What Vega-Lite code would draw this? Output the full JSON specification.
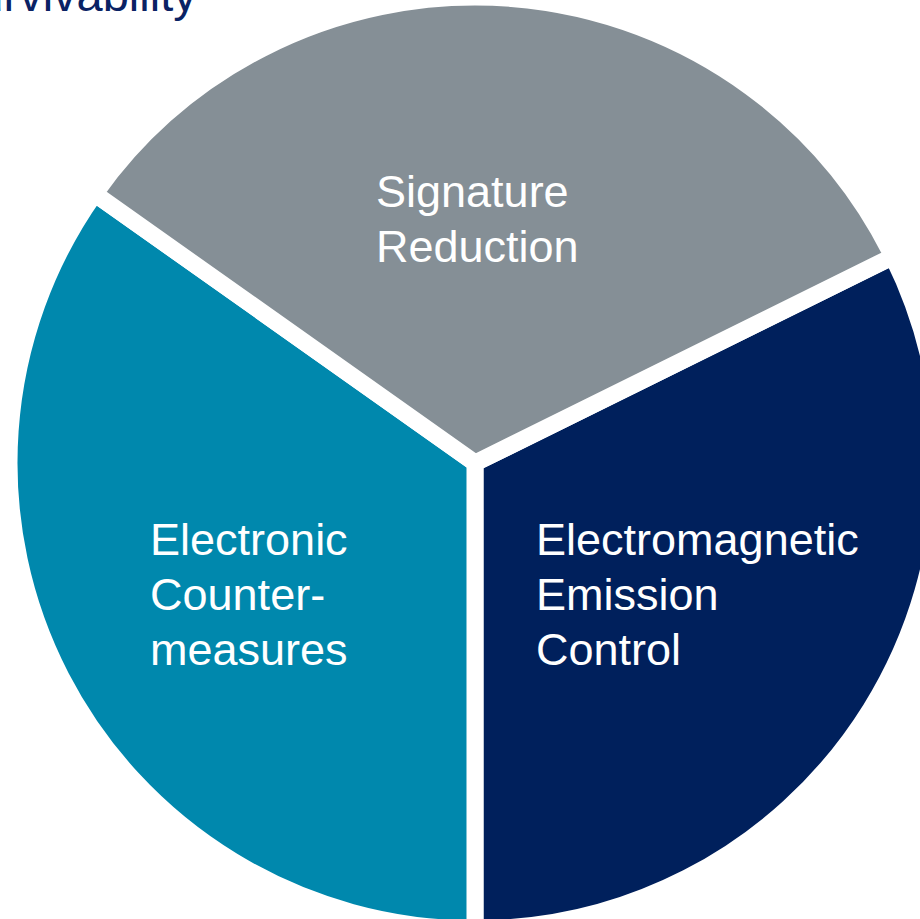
{
  "$schema": "https://vega.github.io/schema/vega-lite/v6.json",
  "width": 920,
  "height": 918,
  "autosize": {"type": "none"},
  "padding": {"left": 15, "top": 4, "right": 0, "bottom": 0},
  "background": "white",
  "config": {"view": {"stroke": null}},
  "title": {
    "text": "Survivability",
    "anchor": "start",
    "frame": "group",
    "orient": "top",
    "font": "Liberation Sans",
    "fontSize": 47,
    "fontWeight": "normal",
    "color": "#0A2264",
    "baseline": "bottom",
    "offset": -105,
    "dx": -69
  },
  "data": {
    "values": [
      {"name": "Electromagnetic Emission Control", "label": ["Electromagnetic", "Emission", "Control"], "value": 116.3, "ord": 1},
      {"name": "Electronic Countermeasures", "label": ["Electronic", "Counter-", "measures"], "value": 125.3, "ord": 2},
      {"name": "Signature Reduction", "label": ["Signature", "Reduction"], "value": 118.4, "ord": 3}
    ]
  },
  "encoding": {
    "theta": {
      "field": "value",
      "type": "quantitative",
      "stack": true,
      "scale": {"domain": [0, 360], "range": [1.11178, 7.39497]}
    },
    "order": {"field": "ord", "type": "quantitative"}
  },
  "layer": [
    {
      "mark": {"type": "arc", "outerRadius": 466, "stroke": "white", "strokeWidth": 17, "strokeJoin": "miter"},
      "encoding": {
        "color": {
          "field": "name",
          "type": "nominal",
          "legend": null,
          "scale": {
            "domain": ["Electromagnetic Emission Control", "Electronic Countermeasures", "Signature Reduction"],
            "range": ["#00205C", "#0088AD", "#858F96"]
          }
        }
      }
    },
    {
      "mark": {"type": "text", "radius": 250, "align": "left", "baseline": "alphabetic", "font": "Liberation Sans", "fontSize": 45, "lineHeight": 55, "color": "white", "dx": -151.3, "dy": -39.9},
      "encoding": {
        "text": {"condition": {"test": "datum.ord === 1", "field": "label"}, "value": ""}
      }
    },
    {
      "mark": {"type": "text", "radius": 250, "align": "left", "baseline": "alphabetic", "font": "Liberation Sans", "fontSize": 45, "lineHeight": 55, "color": "white", "dx": -102.9, "dy": -22.9},
      "encoding": {
        "text": {"condition": {"test": "datum.ord === 2", "field": "label"}, "value": ""}
      }
    },
    {
      "mark": {"type": "text", "radius": 250, "align": "left", "baseline": "alphabetic", "font": "Liberation Sans", "fontSize": 45, "lineHeight": 55, "color": "white", "dx": -118.6, "dy": -6.8},
      "encoding": {
        "text": {"condition": {"test": "datum.ord === 3", "field": "label"}, "value": ""}
      }
    }
  ]
}
